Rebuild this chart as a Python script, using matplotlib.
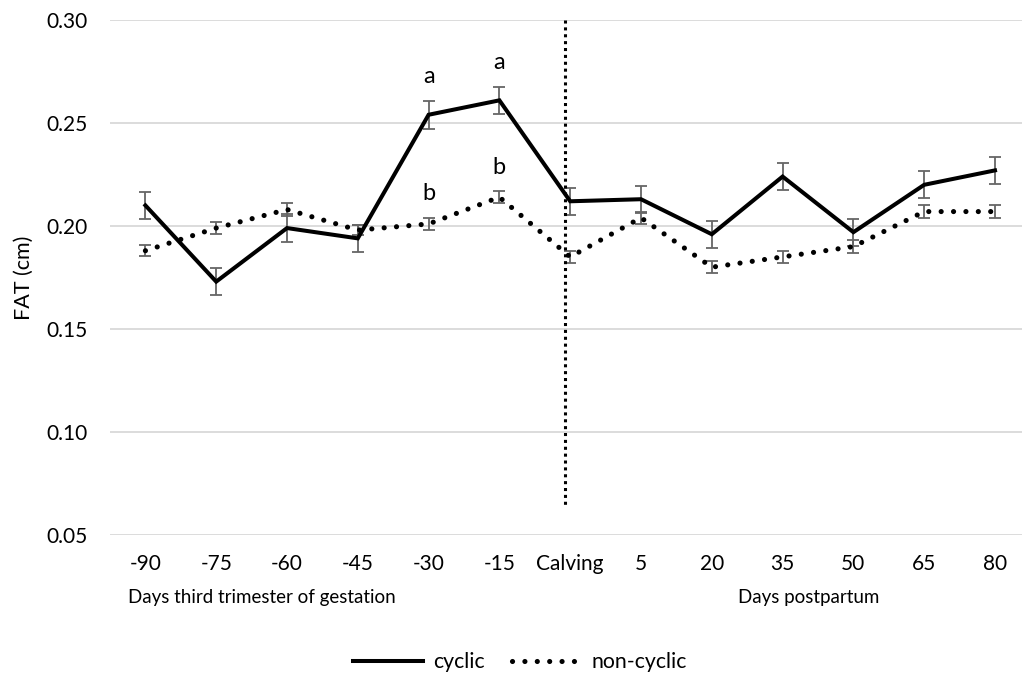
import matplotlib
matplotlib.use("Agg")
import matplotlib.pyplot as plt
from matplotlib.lines import Line2D

plt.rcParams['font.family'] = ['Lato', 'DejaVu Sans']

# Sampling days (categories)
categories = ["-90", "-75", "-60", "-45", "-30", "-15", "Calving",
              "5", "20", "35", "50", "65", "80"]

# Backfat thickness, cm
cyclic = [0.210, 0.173, 0.199, 0.194, 0.254, 0.261, 0.212,
          0.213, 0.196, 0.224, 0.197, 0.220, 0.227]
cyclic_err = [0.0066, 0.0065, 0.0066, 0.0067, 0.0067, 0.0066, 0.0065,
              0.0066, 0.0066, 0.0067, 0.0065, 0.0066, 0.0067]

non_cyclic = [0.188, 0.199, 0.208, 0.198, 0.201, 0.214, 0.185,
              0.204, 0.180, 0.185, 0.190, 0.207, 0.207]
non_cyclic_err = [0.0028, 0.0030, 0.0030, 0.0023, 0.0030, 0.0028, 0.0030,
                  0.0030, 0.0028, 0.0030, 0.0030, 0.0030, 0.0031]

# Significance letters: (category index, series, letter)
letters = [(4, "cyclic", "a"), (5, "cyclic", "a"),
           (4, "non_cyclic", "b"), (5, "non_cyclic", "b")]

y_ticks = [0.05, 0.10, 0.15, 0.20, 0.25, 0.30]

W, H = 1022, 690
fig = plt.figure(figsize=(W / 100, H / 100), dpi=100)
ax = fig.add_axes([110 / W, (H - 535) / H, (W - 110) / W, (535 - 20) / H])

x = list(range(len(categories)))
grid_c = "#d9d9d9"
err_c = "#666666"
dot_style = (0, (0.01, 2.4))

for y in y_ticks:
    ax.axhline(y, color=grid_c, lw=1.3, zorder=0)

ax.errorbar(x, cyclic, yerr=cyclic_err, fmt='none', ecolor=err_c,
            elinewidth=1.3, capsize=4.3, capthick=1.3, zorder=2)
ax.errorbar(x, non_cyclic, yerr=non_cyclic_err, fmt='none', ecolor=err_c,
            elinewidth=1.3, capsize=4.3, capthick=1.3, zorder=2)

ax.plot(x, cyclic, color='black', lw=2.9, solid_joinstyle='miter',
        zorder=3, label='cyclic')
ax.plot(x, non_cyclic, color='black', lw=3.7, linestyle=dot_style,
        dash_capstyle='round', zorder=3, label='non-cyclic')

# Calving marker line
ax.plot([5.92, 5.92], [0.30, 0.063], color='black', lw=2.2,
        linestyle=(0, (1, 1.25)), dash_capstyle='butt', zorder=4,
        clip_on=False)

series = {"cyclic": (cyclic, cyclic_err), "non_cyclic": (non_cyclic, non_cyclic_err)}
for i, key, letter in letters:
    vals, errs = series[key]
    ax.annotate(letter, xy=(i, vals[i] + errs[i]), xytext=(0, 10),
                textcoords='offset points', ha='center', va='bottom',
                fontsize=17)

ax.set_ylim(0.05, 0.30)
ax.set_xlim(-0.5, -0.5 + (W - 110) / 70.8)
ax.set_yticks(y_ticks)
ax.set_yticklabels([f"{v:.2f}" for v in y_ticks])
ax.set_xticks(x)
ax.set_xticklabels(categories)
ax.tick_params(axis='both', length=0, labelsize=15, colors='black')
ax.tick_params(axis='y', pad=16)
ax.tick_params(axis='x', pad=14)
for s in ax.spines.values():
    s.set_visible(False)

ax.set_ylabel("FAT (cm)", fontsize=15.5)
ax.yaxis.set_label_coords(-0.084, 0.5)

fig.text(262 / W, 1 - 598 / H, "Days third trimester of gestation",
         ha='center', va='center', fontsize=13.5)
fig.text(809 / W, 1 - 598 / H, "Days postpartum",
         ha='center', va='center', fontsize=13.5)

handles = [Line2D([], [], color='black', lw=2.9),
           Line2D([], [], color='black', lw=3.7, linestyle=dot_style,
                  dash_capstyle='round')]
fig.legend(handles, ['cyclic', 'non-cyclic'], loc='center',
           bbox_to_anchor=(0.5 + 9 / W, 1 - 662 / H), ncol=2, frameon=False,
           fontsize=15.3, handlelength=3.3, handletextpad=0.45,
           columnspacing=1.3)

fig.savefig("out.png", dpi=100)
